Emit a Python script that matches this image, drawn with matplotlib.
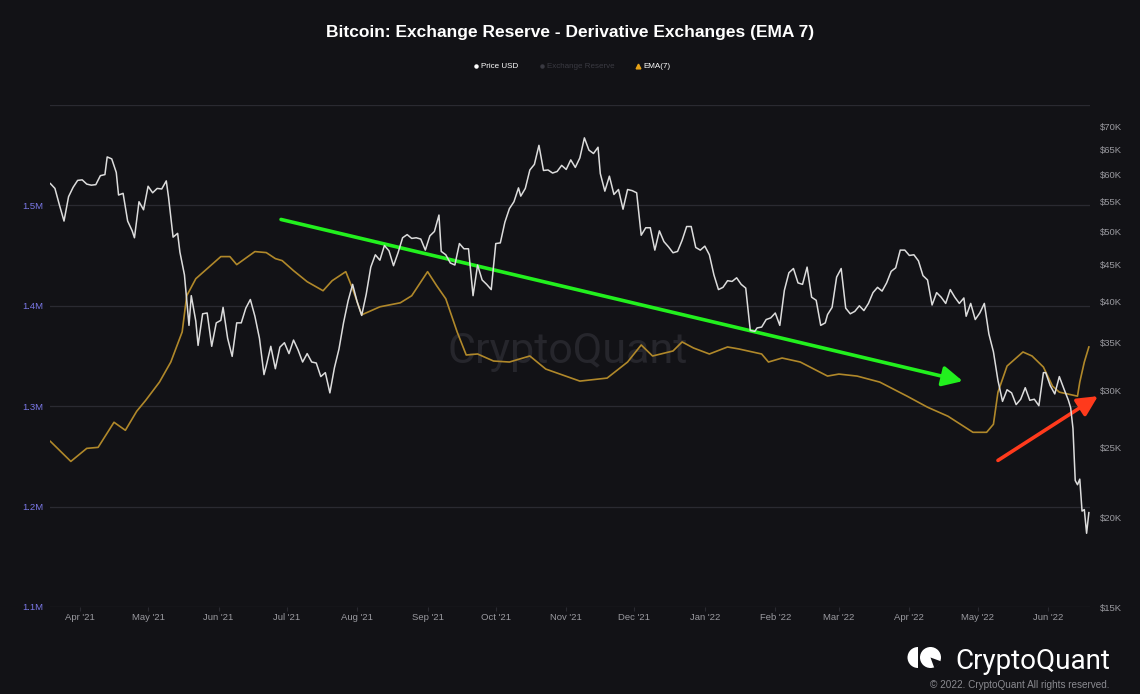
import matplotlib
matplotlib.use("Agg")
import matplotlib.pyplot as plt
import matplotlib.dates as mdates
import numpy as np
import pandas as pd
from matplotlib.lines import Line2D
from matplotlib.patches import Wedge, Circle
from matplotlib.ticker import FixedLocator, FuncFormatter

# ---- data ----
price_dates = [
    "2021-03-19", "2021-03-21", "2021-03-23", "2021-03-25", "2021-03-27", "2021-03-29", "2021-03-31",
    "2021-04-02", "2021-04-04", "2021-04-06", "2021-04-08", "2021-04-10", "2021-04-12", "2021-04-13",
    "2021-04-15", "2021-04-17", "2021-04-18", "2021-04-20", "2021-04-22", "2021-04-24", "2021-04-25",
    "2021-04-27", "2021-04-29", "2021-05-01", "2021-05-03", "2021-05-05", "2021-05-07", "2021-05-09",
    "2021-05-10", "2021-05-12", "2021-05-14", "2021-05-15", "2021-05-17", "2021-05-19", "2021-05-20",
    "2021-05-22", "2021-05-23", "2021-05-25", "2021-05-27", "2021-05-29", "2021-05-31", "2021-06-02",
    "2021-06-03", "2021-06-05", "2021-06-07", "2021-06-09", "2021-06-11", "2021-06-13", "2021-06-15",
    "2021-06-17", "2021-06-19", "2021-06-21", "2021-06-22", "2021-06-24", "2021-06-26", "2021-06-28",
    "2021-06-30", "2021-07-02", "2021-07-04", "2021-07-06", "2021-07-08", "2021-07-10", "2021-07-12",
    "2021-07-14", "2021-07-16", "2021-07-18", "2021-07-20", "2021-07-22", "2021-07-24", "2021-07-26",
    "2021-07-28", "2021-07-30", "2021-08-01", "2021-08-03", "2021-08-05", "2021-08-07", "2021-08-09",
    "2021-08-11", "2021-08-13", "2021-08-15", "2021-08-17", "2021-08-19", "2021-08-21", "2021-08-23",
    "2021-08-25", "2021-08-27", "2021-08-29", "2021-08-31", "2021-09-02", "2021-09-04", "2021-09-06",
    "2021-09-07", "2021-09-09", "2021-09-11", "2021-09-13", "2021-09-15", "2021-09-17", "2021-09-19",
    "2021-09-21", "2021-09-23", "2021-09-25", "2021-09-27", "2021-09-29", "2021-10-01", "2021-10-03",
    "2021-10-05", "2021-10-07", "2021-10-09", "2021-10-11", "2021-10-12", "2021-10-14", "2021-10-16",
    "2021-10-18", "2021-10-20", "2021-10-22", "2021-10-24", "2021-10-26", "2021-10-28", "2021-10-30",
    "2021-11-01", "2021-11-03", "2021-11-05", "2021-11-07", "2021-11-09", "2021-11-11", "2021-11-13",
    "2021-11-15", "2021-11-16", "2021-11-18", "2021-11-20", "2021-11-22", "2021-11-24", "2021-11-26",
    "2021-11-28", "2021-11-30", "2021-12-02", "2021-12-04", "2021-12-06", "2021-12-08", "2021-12-10",
    "2021-12-12", "2021-12-14", "2021-12-16", "2021-12-18", "2021-12-20", "2021-12-22", "2021-12-24",
    "2021-12-26", "2021-12-28", "2021-12-30", "2022-01-01", "2022-01-03", "2022-01-05", "2022-01-07",
    "2022-01-09", "2022-01-11", "2022-01-13", "2022-01-15", "2022-01-17", "2022-01-19", "2022-01-21",
    "2022-01-23", "2022-01-24", "2022-01-26", "2022-01-28", "2022-01-30", "2022-02-01", "2022-02-03",
    "2022-02-05", "2022-02-07", "2022-02-09", "2022-02-11", "2022-02-13", "2022-02-15", "2022-02-17",
    "2022-02-19", "2022-02-21", "2022-02-23", "2022-02-24", "2022-02-26", "2022-02-28", "2022-03-02",
    "2022-03-04", "2022-03-06", "2022-03-08", "2022-03-10", "2022-03-12", "2022-03-14", "2022-03-16",
    "2022-03-18", "2022-03-20", "2022-03-22", "2022-03-24", "2022-03-26", "2022-03-28", "2022-03-30",
    "2022-04-01", "2022-04-03", "2022-04-05", "2022-04-07", "2022-04-09", "2022-04-11", "2022-04-13",
    "2022-04-15", "2022-04-17", "2022-04-19", "2022-04-21", "2022-04-23", "2022-04-25", "2022-04-26",
    "2022-04-28", "2022-04-30", "2022-05-02", "2022-05-04", "2022-05-06", "2022-05-08", "2022-05-10",
    "2022-05-12", "2022-05-14", "2022-05-16", "2022-05-18", "2022-05-20", "2022-05-22", "2022-05-24",
    "2022-05-26", "2022-05-28", "2022-05-30", "2022-05-31", "2022-06-02", "2022-06-04", "2022-06-06",
    "2022-06-08", "2022-06-10", "2022-06-11", "2022-06-12", "2022-06-13", "2022-06-14", "2022-06-15",
    "2022-06-16", "2022-06-17", "2022-06-18", "2022-06-19",
]
price_usd = [
    58.3, 57.4, 54.4, 51.7, 55.9, 57.6, 58.9,
    59.0, 58.2, 58.0, 58.1, 59.8, 60.0, 63.5,
    63.1, 60.4, 56.2, 56.5, 51.7, 50.1, 49.0,
    55.0, 53.6, 57.8, 56.6, 57.4, 57.3, 58.8,
    55.8, 49.1, 49.7, 46.8, 43.5, 37.0, 40.7,
    37.5, 34.7, 38.4, 38.5, 34.6, 37.3, 37.6,
    39.2, 35.5, 33.5, 37.3, 37.3, 39.1, 40.2,
    38.1, 35.5, 31.6, 32.5, 34.6, 32.2, 34.5,
    35.0, 33.8, 35.3, 34.2, 32.9, 33.8, 32.9,
    32.8, 31.4, 31.8, 29.8, 32.3, 34.3, 37.3,
    40.0, 42.2, 39.9, 38.2, 40.9, 44.6, 46.4,
    45.6, 47.8, 47.0, 44.8, 46.7, 49.0, 49.5,
    48.9, 49.0, 48.8, 47.1, 49.3, 50.0, 52.7,
    46.9, 46.4, 45.2, 44.9, 48.1, 47.3, 47.3,
    40.7, 44.9, 42.8, 42.2, 41.5, 48.1, 48.2,
    51.5, 53.8, 55.0, 57.5, 56.0, 57.4, 60.9,
    62.0, 65.9, 60.8, 60.9, 60.3, 60.6, 61.8,
    61.0, 62.9, 61.4, 63.3, 67.5, 64.9, 64.2,
    65.5, 60.2, 56.9, 59.7, 56.3, 57.2, 53.7,
    57.2, 57.0, 56.6, 49.4, 50.6, 50.6, 47.1,
    50.1, 48.4, 47.6, 46.7, 46.9, 48.6, 50.8,
    50.8, 47.5, 47.1, 47.7, 46.4, 43.5, 41.5,
    41.8, 42.7, 42.6, 43.1, 42.2, 41.7, 36.4,
    36.3, 36.7, 36.8, 37.7, 37.9, 38.5, 37.0,
    41.4, 43.8, 44.4, 42.4, 42.2, 44.6, 40.5,
    40.1, 37.0, 37.3, 38.3, 39.2, 43.2, 44.4,
    39.1, 38.4, 38.7, 39.4, 38.8, 39.7, 41.1,
    41.8, 41.3, 42.4, 44.0, 44.5, 47.1, 47.1,
    46.3, 46.4, 45.5, 43.4, 42.8, 39.5, 41.1,
    40.5, 39.7, 41.5, 40.5, 39.7, 40.4, 38.1,
    39.7, 37.7, 38.5, 39.7, 36.0, 34.0, 31.0,
    29.0, 30.1, 29.8, 28.7, 29.2, 30.3, 29.1,
    29.2, 28.6, 31.8, 31.8, 30.5, 29.7, 31.4,
    30.2, 29.1, 28.4, 26.6, 22.5, 22.2, 22.6,
    20.4, 20.5, 19.0, 20.3,
]  # thousands of USD

ema_dates = [
    "2021-03-19", "2021-03-28", "2021-04-04", "2021-04-09", "2021-04-16", "2021-04-21", "2021-04-26",
    "2021-04-30", "2021-05-06", "2021-05-11", "2021-05-16", "2021-05-18", "2021-05-22", "2021-05-27",
    "2021-06-02", "2021-06-06", "2021-06-09", "2021-06-17", "2021-06-22", "2021-06-26", "2021-06-29",
    "2021-07-04", "2021-07-10", "2021-07-17", "2021-07-21", "2021-07-27", "2021-07-30", "2021-08-03",
    "2021-08-11", "2021-08-20", "2021-08-25", "2021-09-01", "2021-09-05", "2021-09-09", "2021-09-14",
    "2021-09-18", "2021-09-23", "2021-09-30", "2021-10-07", "2021-10-16", "2021-10-23", "2021-11-07",
    "2021-11-19", "2021-11-28", "2021-12-04", "2021-12-09", "2021-12-18", "2021-12-22", "2021-12-27",
    "2022-01-03", "2022-01-11", "2022-01-16", "2022-01-26", "2022-01-29", "2022-02-04", "2022-02-12",
    "2022-02-24", "2022-03-01", "2022-03-09", "2022-03-19", "2022-03-31", "2022-04-09", "2022-04-18",
    "2022-04-29", "2022-05-05", "2022-05-08", "2022-05-10", "2022-05-14", "2022-05-21", "2022-05-25",
    "2022-05-30", "2022-06-03", "2022-06-06", "2022-06-14", "2022-06-15", "2022-06-17", "2022-06-19",
]
ema_reserve = [
    1.265, 1.245, 1.258, 1.259, 1.284, 1.276, 1.295,
    1.306, 1.324, 1.344, 1.374, 1.410, 1.427, 1.437,
    1.449, 1.449, 1.441, 1.454, 1.453, 1.447, 1.445,
    1.435, 1.424, 1.415, 1.425, 1.434, 1.417, 1.391,
    1.399, 1.403, 1.410, 1.434, 1.420, 1.407, 1.374,
    1.351, 1.352, 1.345, 1.344, 1.350, 1.337, 1.325,
    1.328, 1.344, 1.361, 1.350, 1.355, 1.364, 1.358,
    1.352, 1.359, 1.357, 1.352, 1.344, 1.348, 1.344,
    1.330, 1.332, 1.330, 1.324, 1.310, 1.299, 1.290,
    1.274, 1.274, 1.282, 1.314, 1.340, 1.354, 1.350,
    1.339, 1.320, 1.314, 1.310, 1.324, 1.344, 1.359,
]  # millions of BTC

reserve_ticks = [1.1, 1.2, 1.3, 1.4, 1.5]
price_ticks = [15, 20, 25, 30, 35, 40, 45, 50, 55, 60, 65, 70]
month_ticks = pd.date_range("2021-04-01", "2022-06-01", freq="MS")

# annotation arrows (date, reserve in M)
green_arrow = (("2021-06-28 12:00", 1.486), ("2022-04-24 12:00", 1.325))
red_arrow = (("2022-05-10", 1.246), ("2022-06-23", 1.31))

BG = "#121216"
GRID = "#2a2a31"
EMA_COLOR = "#b0882a"
PRICE_COLOR = "#dcdcdc"

plt.rcParams["font.family"] = ["Liberation Sans", "DejaVu Sans"]

fig = plt.figure(figsize=(11.4, 6.94), dpi=100, facecolor=BG)
ax = fig.add_axes([50 / 1140, 1 - 607 / 694, 1040 / 1140, 502 / 694])
ax.set_facecolor(BG)
ax2 = ax.twinx()

pd_price = pd.to_datetime(price_dates)
pd_ema = pd.to_datetime(ema_dates)

ax.plot(pd_ema, ema_reserve, color=EMA_COLOR, lw=1.2, zorder=3)
ax2.plot(pd_price, price_usd, color=PRICE_COLOR, lw=1.1, zorder=4)

ax.set_xlim(pd.Timestamp("2021-03-18 20:00"), pd.Timestamp("2022-06-19 12:00"))
ax.set_ylim(1.1, 1.6)
ax2.set_yscale("log")
ax2.set_ylim(15, 75)

for a in (ax, ax2):
    for s in a.spines.values():
        s.set_visible(False)

ax.set_yticks(reserve_ticks)
ax.set_yticklabels([f"{v:.1f}M" for v in reserve_ticks])
ax.tick_params(axis="y", length=0, pad=5, labelsize=6.8, labelcolor="#7a78e6")
for v in reserve_ticks + [1.6]:
    ax.axhline(v, color=GRID, lw=0.9, zorder=1)

ax2.yaxis.set_major_locator(FixedLocator(price_ticks))
ax2.yaxis.set_minor_locator(FixedLocator([]))
ax2.yaxis.set_major_formatter(FuncFormatter(lambda v, p: f"${v:.0f}K"))
ax2.tick_params(axis="y", length=0, pad=7, labelsize=6.8, labelcolor="#9a9aa0")

ax.set_xticks(month_ticks)
ax.xaxis.set_major_formatter(mdates.DateFormatter("%b '%y"))
ax.tick_params(axis="x", length=3, width=0.8, color=GRID, pad=1.5, labelsize=6.8, labelcolor="#9a9aa0")

# watermark
ax.text(0.498, 0.508, "CryptoQuant", transform=ax.transAxes, ha="center", va="center",
        fontsize=31, color="#26262c", family=["Roboto", "DejaVu Sans"], zorder=0)

# arrows
for (start, end), col in ((green_arrow, "#22f01e"), (red_arrow, "#ff3a1c")):
    ax.annotate("", xy=(pd.Timestamp(end[0]), end[1]), xytext=(pd.Timestamp(start[0]), start[1]),
                annotation_clip=False, zorder=6,
                arrowprops=dict(arrowstyle="-|>,head_length=1.1,head_width=0.55", color=col,
                                lw=2.6, mutation_scale=11, shrinkA=0, shrinkB=0))

# title
fig.text(0.5, 1 - 32 / 694, "Bitcoin: Exchange Reserve - Derivative Exchanges (EMA 7)",
         ha="center", va="center", fontsize=12.5, fontweight="bold", color="white")

# legend
ly = 1 - 66 / 694
items = [
    (476, "o", "white", 2.2, "Price USD", "white"),
    (542, "o", "#3a3a42", 2.2, "Exchange Reserve", "#3a3a42"),
    (638, "^", "#e8a317", 3.4, "EMA(7)", "white"),
]
for px, mk, mc, ms, label, tc in items:
    fig.add_artist(Line2D([px / 1140], [ly], transform=fig.transFigure, marker=mk,
                          markersize=ms, color=mc, lw=0))
    fig.text((px + 5) / 1140, ly, label, ha="left", va="center", fontsize=5.8, color=tc)

# logo
lax = fig.add_axes([905 / 1140, 1 - 670 / 694, 38 / 1140, 25 / 694])
lax.set_xlim(0, 38)
lax.set_ylim(0, 25)
lax.axis("off")
lax.add_patch(Wedge((13, 12.5), 10.5, 90, 270, color="white", lw=0))
lax.add_patch(Circle((25.5, 12.5), 10.5, color="white", lw=0))
lax.add_patch(Wedge((25.5, 12.5), 11, 290, 340, color=BG, lw=0))
fig.text(1110 / 1140, 1 - 669 / 694, "CryptoQuant", ha="right", va="baseline",
         fontsize=20, color="white", family=["Roboto", "DejaVu Sans"])
fig.text(1110 / 1140, 1 - 685 / 694, "\u00a9 2022. CryptoQuant All rights reserved.",
         ha="right", va="center", fontsize=7.2, color="#8a8a90")

fig.savefig("out.png", dpi=100, facecolor=BG)
